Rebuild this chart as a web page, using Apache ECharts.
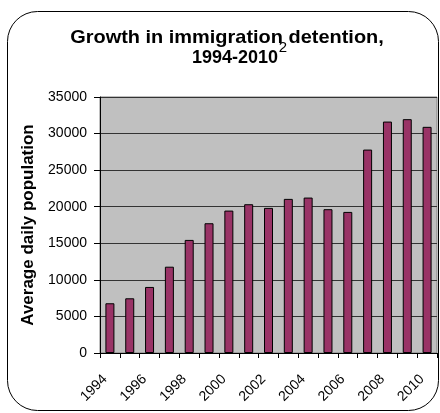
<!DOCTYPE html>
<html><head><meta charset="utf-8">
<script src="https://cdn.jsdelivr.net/npm/echarts@6/dist/echarts.min.js"></script>
<style>html,body{margin:0;padding:0;background:#fff}#c{width:440px;height:413px}</style>
</head><body><div id="c"></div>
<script>
const years = ['1994','1995','1996','1997','1998','1999','2000','2001','2002','2003','2004','2005','2006','2007','2008','2009','2010'];
const population = [6800,7480,9030,11800,15460,17740,19470,20340,19840,21070,21250,19660,19290,27810,31640,31970,30920];
const yTicks = [0,5000,10000,15000,20000,25000,30000,35000];
const titleLine1 = 'Growth in immigration detention,';
const titleLine2 = '1994-2010';
const footnote = '2';
const yName = 'Average daily population';

const chart = echarts.init(document.getElementById('c'));
const F = '"Liberation Sans", Arial, sans-serif';
chart.setOption({
  animation: false,
  graphic: [
    {type:'rect', shape:{x:7.5,y:11.5,width:431,height:399,r:30}, style:{fill:'none',stroke:'#000',lineWidth:1}, z:-1},
    {type:'text', x:227, y:38, scaleX:1.05, style:{text:titleLine1, font:'bold 19px '+F, fill:'#000', align:'center', verticalAlign:'middle'}},
    {type:'text', x:235, y:58, style:{text:titleLine2, font:'bold 18px '+F, fill:'#000', align:'center', verticalAlign:'middle'}},
    {type:'text', x:283, y:48, style:{text:footnote, font:'15px '+F, fill:'#000', align:'center', verticalAlign:'middle'}}
  ],
  grid: {left:100, right:3, top:97, bottom:60, show:true, backgroundColor:'#c0c0c0', borderColor:'#808080', borderWidth:1},
  xAxis: {
    type:'category', data: years, boundaryGap:true,
    axisLine:{show:true, lineStyle:{color:'#000'}},
    axisTick:{show:true, interval:0, length:5, lineStyle:{color:'#000'}},
    axisLabel:{interval:1, rotate:45, fontFamily:F, fontSize:14, color:'#000', margin:19, padding:[0,7,0,0]},
    splitLine:{show:false}
  },
  yAxis: {
    type:'value', min:yTicks[0], max:yTicks[yTicks.length-1], interval:5000,
    name: yName, nameLocation:'middle', nameGap:62, nameRotate:90,
    nameTextStyle:{fontFamily:F, fontSize:17, fontWeight:'bold', color:'#000'},
    axisLine:{show:true, lineStyle:{color:'#000'}},
    axisTick:{show:true, length:6, lineStyle:{color:'#000'}},
    axisLabel:{fontFamily:F, fontSize:14, color:'#000', margin:13, formatter: v => String(v)},
    splitLine:{show:true, lineStyle:{color:'#333', width:1}}
  },
  series: [{
    type:'bar', data: population, barWidth:9,
    itemStyle:{color:'#993366', borderColor:'#000', borderWidth:1}
  }]
});
</script></body></html>
